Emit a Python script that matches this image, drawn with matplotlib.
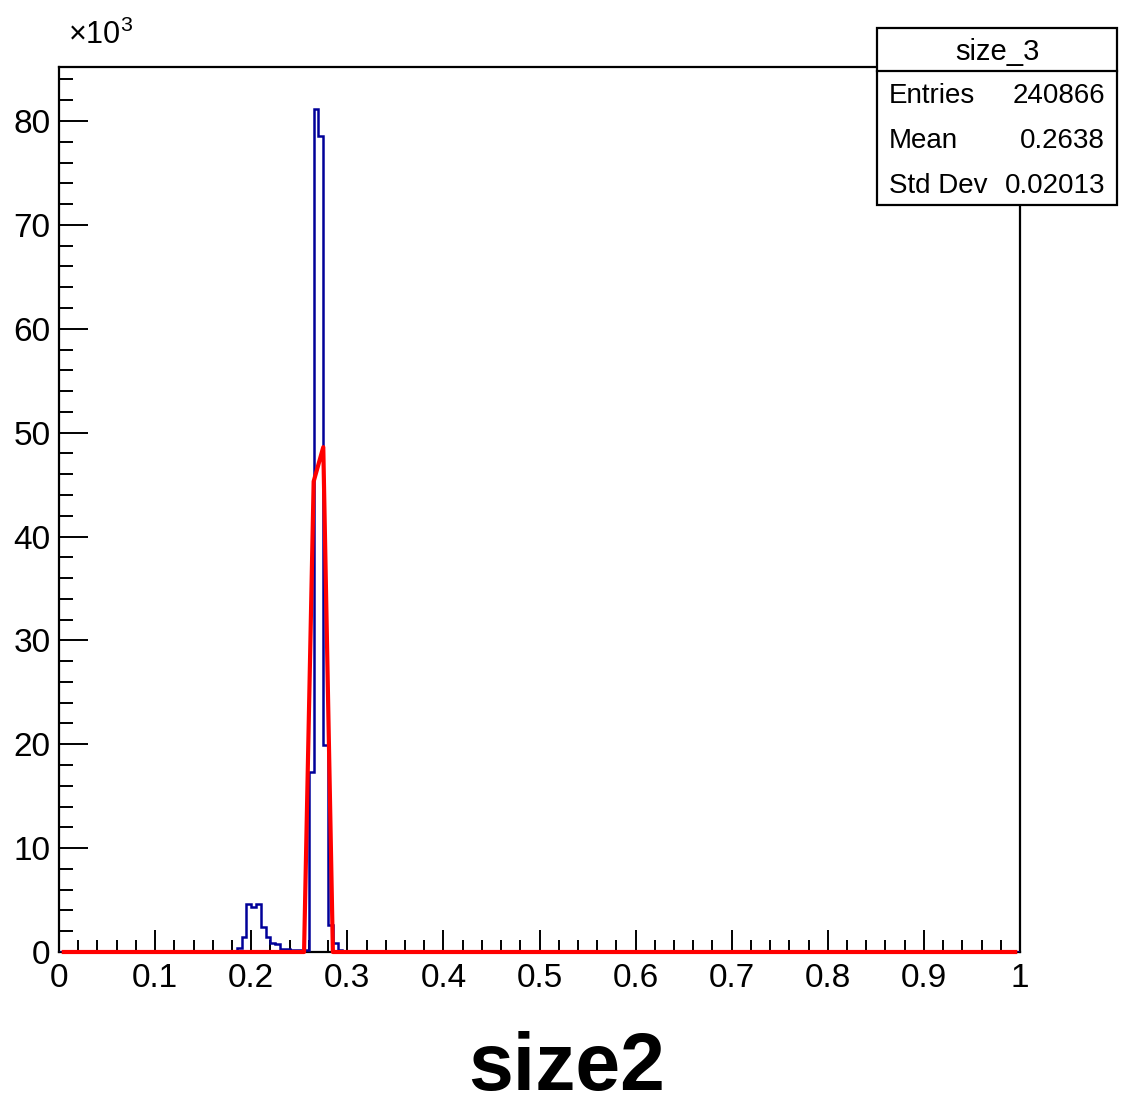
import numpy as np
import matplotlib
matplotlib.use("Agg")
import matplotlib.pyplot as plt
from matplotlib.patches import Rectangle
from matplotlib.ticker import MultipleLocator, FixedLocator

# histogram: 200 bins on [0, 1], only bins from 0.185 to 0.295 are non-empty
n_bins = 200
first_bin_low = 0.185
bin_counts = [350, 1400, 4600, 4300, 4600, 2400, 1400, 900, 800, 300,
              300, 200, 200, 200, 200, 17300, 81200, 78600, 19900, 2600,
              900, 200]

# red fit curve sampled every 0.01 (centres 0.005 .. 0.995)
fit_x = [0.255, 0.265, 0.275, 0.285]
fit_y = [0, 45300, 48600, 0]

# stats box
stat_title = "size_3"
stat_names = ["Entries", "Mean", "Std Dev"]
stat_values = ["240866", "0.2638", "0.02013"]

y_ticks = [0, 10, 20, 30, 40, 50, 60, 70, 80]
x_ticks = [0, 0.1, 0.2, 0.3, 0.4, 0.5, 0.6, 0.7, 0.8, 0.9, 1]
x_label = "size2"

plt.rcParams['font.family'] = ["Liberation Sans", "DejaVu Sans"]
plt.rcParams['mathtext.default'] = "regular"

W, H = 1133, 1110
fig = plt.figure(figsize=(W / 100, H / 100), dpi=100)
ax = fig.add_axes([59 / W, 1 - 952 / H, 961 / W, 885 / H])

edges = np.linspace(0, 1, n_bins + 1)
counts = np.zeros(n_bins)
k0 = int(round(first_bin_low * n_bins))
counts[k0:k0 + len(bin_counts)] = bin_counts
ax.stairs(counts, edges, color="#000099", linewidth=1.8, zorder=3)

curve_x = np.round(np.arange(100) * 0.01 + 0.005, 4)
curve_y = np.zeros(100)
for x, y in zip(fit_x, fit_y):
    curve_y[int(round((x - 0.005) / 0.01))] = y
ax.plot(curve_x, curve_y, color="#ff0000", linewidth=3, zorder=4, clip_on=False)

ax.set_xlim(0, 1)
ax.set_ylim(0, 85200)
ax.xaxis.set_major_locator(FixedLocator(x_ticks))
ax.xaxis.set_minor_locator(MultipleLocator(0.02))
ax.yaxis.set_major_locator(FixedLocator([v * 1000 for v in y_ticks]))
ax.yaxis.set_minor_locator(MultipleLocator(2000))
ax.set_xticklabels([f"{v:g}" for v in x_ticks])
ax.set_yticklabels([str(v) for v in y_ticks])

ax.tick_params(axis="both", which="both", direction="in", width=1.4, labelsize=24,
               top=False, right=False)
ax.tick_params(axis="y", which="major", length=21, pad=6)
ax.tick_params(axis="y", which="minor", length=10)
ax.tick_params(axis="x", which="major", length=16, pad=8)
ax.tick_params(axis="x", which="minor", length=9)
for s in ax.spines.values():
    s.set_linewidth(1.6)

fig.text(68 / W, 1 - 44 / H, "\u00d710$^{3}$", fontsize=22, ha="left", va="baseline")

fig.text(567 / W, 1 - 1107 / H, x_label, fontsize=58, fontweight="bold",
         ha="center", va="bottom")

# stats box
bx0, bx1, by0, by1, sep = 877, 1117, 28, 205, 71
fig.add_artist(Rectangle((bx0 / W, 1 - by1 / H), (bx1 - bx0) / W, (by1 - by0) / H,
                         transform=fig.transFigure, facecolor="white",
                         edgecolor="black", linewidth=1.6, zorder=10))
fig.add_artist(plt.Line2D([bx0 / W, bx1 / W], [1 - sep / H, 1 - sep / H],
                          transform=fig.transFigure, color="black", linewidth=1.6, zorder=11))
fig.text((bx0 + bx1) / 2 / W, 1 - 60 / H, stat_title, fontsize=21,
         ha="center", va="baseline", zorder=12)
for i, (n, v) in enumerate(zip(stat_names, stat_values)):
    yb = 1 - (103 + i * 45) / H
    fig.text(889 / W, yb, n, fontsize=20, ha="left", va="baseline", zorder=12)
    fig.text(1105 / W, yb, v, fontsize=20, ha="right", va="baseline", zorder=12)

fig.savefig("out.png", dpi=100)
